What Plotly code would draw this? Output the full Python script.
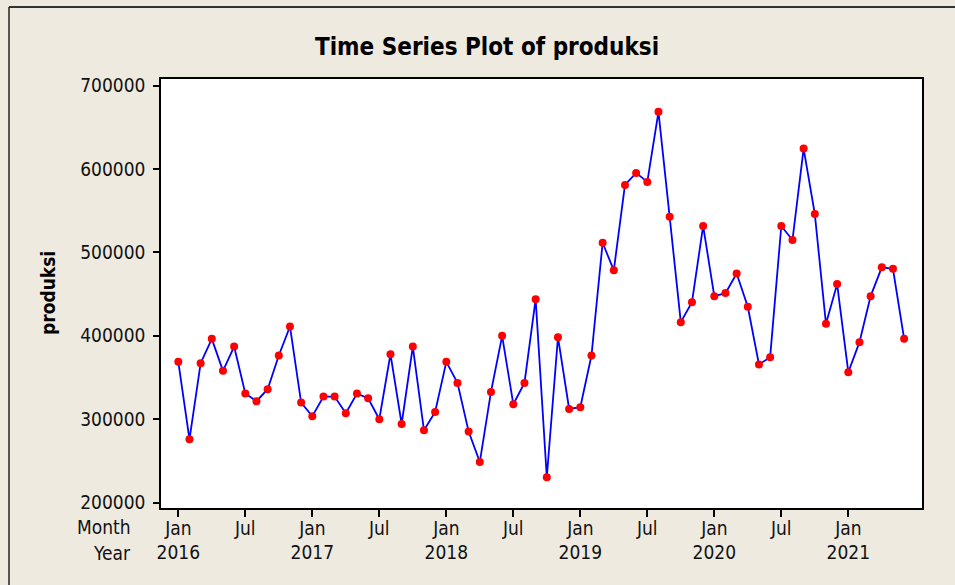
import plotly.graph_objects as go

months = ["Jan", "Feb", "Mar", "Apr", "May", "Jun", "Jul", "Aug", "Sep", "Oct", "Nov", "Dec"]
years = [2016, 2017, 2018, 2019, 2020, 2021]

produksi = [
    368700, 275900, 367100, 396300, 357900, 387100, 330700, 321500, 335900, 376300, 411100, 319900,
    303500, 327100, 327100, 307100, 330700, 325100, 299900, 377900, 294200, 387100, 286700, 308600,
    368700, 343500, 285100, 248600, 332700, 399900, 317900, 343500, 443900, 230300, 398300, 312200,
    314300, 376300, 511500, 478400, 580800, 595200, 584400, 668400, 542700, 416300, 440300, 531600,
    447500, 451100, 474700, 434700, 365500, 374300, 531600, 514800, 624400, 546000, 414300, 461900,
    356300, 392300, 447500, 482000, 480300, 396300,
]

index = list(range(1, len(produksi) + 1))
y_ticks = [200000, 300000, 400000, 500000, 600000, 700000]

tick_vals = []
tick_text = []
for i in range(0, len(produksi), 6):
    m = months[i % 12]
    if m == "Jan":
        tick_text.append(f"{m}<br>{years[i // 12]}")
    else:
        tick_text.append(m)
    tick_vals.append(index[i])

FONT = "Tahoma, 'DejaVu Sans Condensed', 'Noto Sans', sans-serif"
BG = "#EEEAE0"

# plot area pixel geometry
L, R, T, B = 161, 922, 79, 508
W, H = 955, 585
pw, ph = R - L, B - T

def px(x):
    return (x - L) / pw

def py(y):
    return (B - y) / ph

fig = go.Figure()
fig.add_trace(go.Scatter(
    x=index, y=produksi, mode="lines+markers",
    line=dict(color="#0000FF", width=1.8),
    marker=dict(color="#FF0000", size=8, line=dict(width=0)),
    showlegend=False,
))

fig.update_layout(
    width=W, height=H,
    margin=dict(l=L, r=W - R, t=T, b=H - B, autoexpand=False),
    paper_bgcolor=BG, plot_bgcolor="white",
    font=dict(family=FONT, size=19, color="#111111"),
    title=dict(text="<b>Time Series Plot of produksi</b>", x=487 / W, xanchor="center",
               y=1 - 47 / H, yanchor="middle", yref="container",
               font=dict(family=FONT, size=24, color="#000000")),
    xaxis=dict(range=[-0.55, 67.6], tickvals=tick_vals, ticktext=tick_text,
               ticks="outside", ticklen=7, tickwidth=1.5, tickcolor="#000",
               ticklabelstandoff=-5,
               showline=True, linecolor="#000", linewidth=1.5, mirror=True,
               showgrid=False, zeroline=False, tickfont=dict(size=19)),
    yaxis=dict(range=[193500, 707800], tickvals=y_ticks, tickformat="d",
               ticks="outside", ticklen=6, tickwidth=1.5, tickcolor="#000",
               ticklabelstandoff=4,
               showline=True, linecolor="#000", linewidth=1.5, mirror=True,
               showgrid=False, zeroline=False, tickfont=dict(size=19)),
    shapes=[
        dict(type="line", xref="paper", yref="paper", x0=px(9), x1=px(960), y0=py(7), y1=py(7),
             line=dict(color="#333333", width=2)),
        dict(type="line", xref="paper", yref="paper", x0=px(9), x1=px(9), y0=py(7), y1=py(590),
             line=dict(color="#222222", width=1.5)),
    ],
    annotations=[
        dict(text="Month", xref="paper", yref="paper", x=px(133), y=py(527),
             xanchor="right", yanchor="middle", showarrow=False, font=dict(size=19)),
        dict(text="Year", xref="paper", yref="paper", x=px(133), y=py(553),
             xanchor="right", yanchor="middle", showarrow=False, font=dict(size=19)),
        dict(text="<b>produksi</b>", xref="paper", yref="paper", x=px(48), y=py(293),
             xanchor="center", yanchor="middle", textangle=-90, showarrow=False,
             font=dict(size=19, color="#000")),
    ],
)

fig.write_html(
    "out.html",
    config={"displayModeBar": False},
    post_script="document.body.style.margin='0';document.body.style.overflow='hidden';",
)
